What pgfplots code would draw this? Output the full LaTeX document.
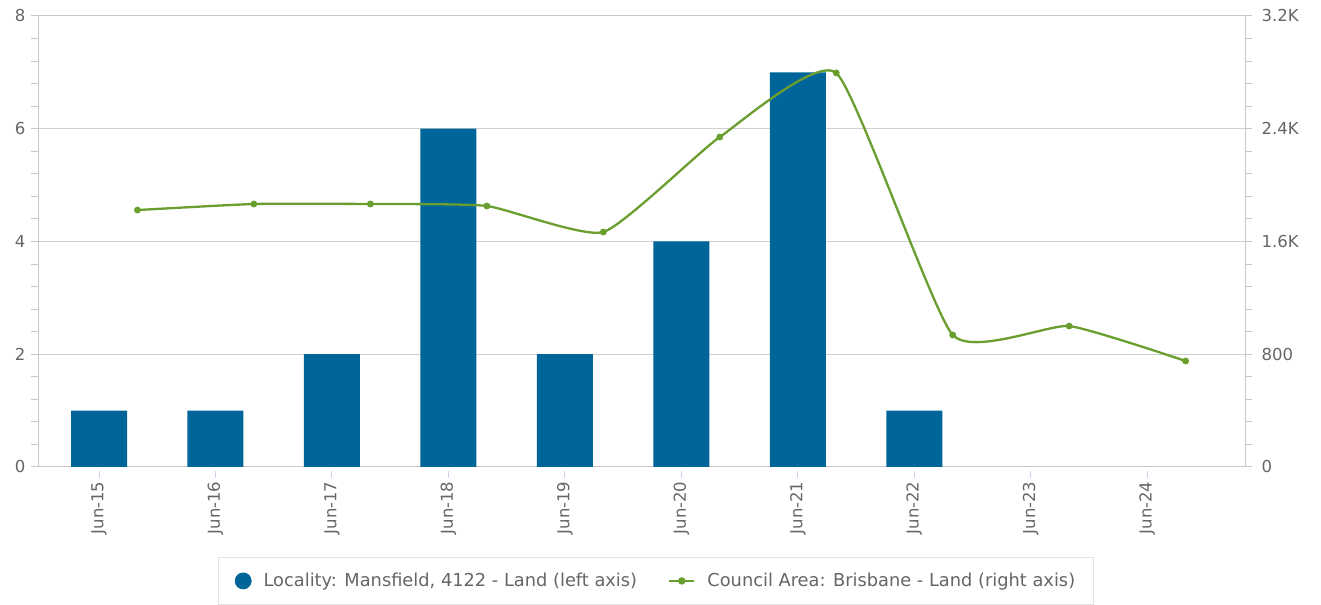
\documentclass[border=0pt]{standalone}
\usepackage{fontspec}
\setmainfont{DejaVu Sans}
\usepackage{pgfplots}
\pgfplotsset{compat=1.18}
\definecolor{barblue}{RGB}{0,101,153}
\definecolor{linegreen}{RGB}{106,158,47}
\definecolor{gridgray}{RGB}{208,208,208}
\definecolor{axisgray}{RGB}{200,200,200}
\definecolor{labgray}{RGB}{102,102,102}
\definecolor{tickblue}{RGB}{200,212,232}
\pgfplotsset{
  common/.style={
    width=1207bp, height=451bp, scale only axis,
    xmin=-0.524, xmax=9.84, ymin=0,
    tick align=outside,
    major tick length=7bp, minor tick length=7bp,
    minor y tick num=4,
    axis line style={draw=axisgray, line width=1bp},
    tick label style={font=\fontsize{16.5bp}{19bp}\selectfont, text=labgray},
    /pgf/number format/assume math mode=true,
  }
}
\begin{document}
\begin{tikzpicture}
\begin{axis}[common, name=ax,
  ymax=8, ytick={0,2,4,6,8},
  ymajorgrids, major grid style={draw=gridgray, line width=1bp},
  y tick style={draw=axisgray, line width=1bp},
  ytick pos=left,
  xtick={0,...,9},
  xticklabels={Jun-15,Jun-16,Jun-17,Jun-18,Jun-19,Jun-20,Jun-21,Jun-22,Jun-23,Jun-24},
  xtick pos=bottom,
  x tick style={draw=tickblue, line width=1bp, yshift=-4bp},
  x tick label style={rotate=90, anchor=east},
  xticklabel shift=4bp,
  yticklabel shift=2bp,
]
\addplot[ybar, bar width=56bp, draw=none, fill=barblue] coordinates {
(0,1) (1,1) (2,2) (3,6) (4,2) (5,4) (6,7) (7,1)};
\end{axis}
\begin{axis}[common,
  axis y line*=right, axis x line=none,
  ymax=3200, ytick={0,800,1600,2400,3200},
  yticklabels={0,800,1.6K,2.4K,3.2K},
  y tick style={draw=axisgray, line width=1bp},
  yticklabel shift=6bp,
  scaled y ticks=false,
  legend columns=2,
  legend style={at={(0.512,-0.1996)}, anchor=north, draw=gridgray!60, line width=0.8bp,
    font=\fontsize{17.8bp}{20bp}\selectfont, text=labgray,
    inner xsep=16bp, inner ysep=14bp,
    /tikz/every odd column/.append style={column sep=10bp},
    /tikz/every even column/.append style={column sep=29bp}},
  legend cell align=left,
]
\addlegendimage{legend image code/.code={\fill[barblue] (4bp,0) circle (8bp);}}
\addlegendentry{Locality: Mansfield, 4122 - Land (left axis)}
\addplot[linegreen, line width=2.3bp, smooth, tension=0.3, mark=*, mark size=2.2bp,
  legend image code/.code={\draw[linegreen, line width=2.3bp] (0,0) -- (25bp,0);
     \fill[linegreen] (12.5bp,0) circle (2.5bp);}] coordinates {
(0.33,1823) (1.33,1866) (2.33,1866) (3.33,1852) (4.33,1667) (5.33,2341) (6.33,2796) (7.33,937) (8.33,1000) (9.33,752)};
\addlegendentry{Council Area: Brisbane - Land (right axis)}
\end{axis}
\pgfresetboundingbox
\useasboundingbox ([xshift=-38bp,yshift=-138bp]ax.south west) rectangle ([xshift=76bp,yshift=16bp]ax.north east);
\end{tikzpicture}
\end{document}
